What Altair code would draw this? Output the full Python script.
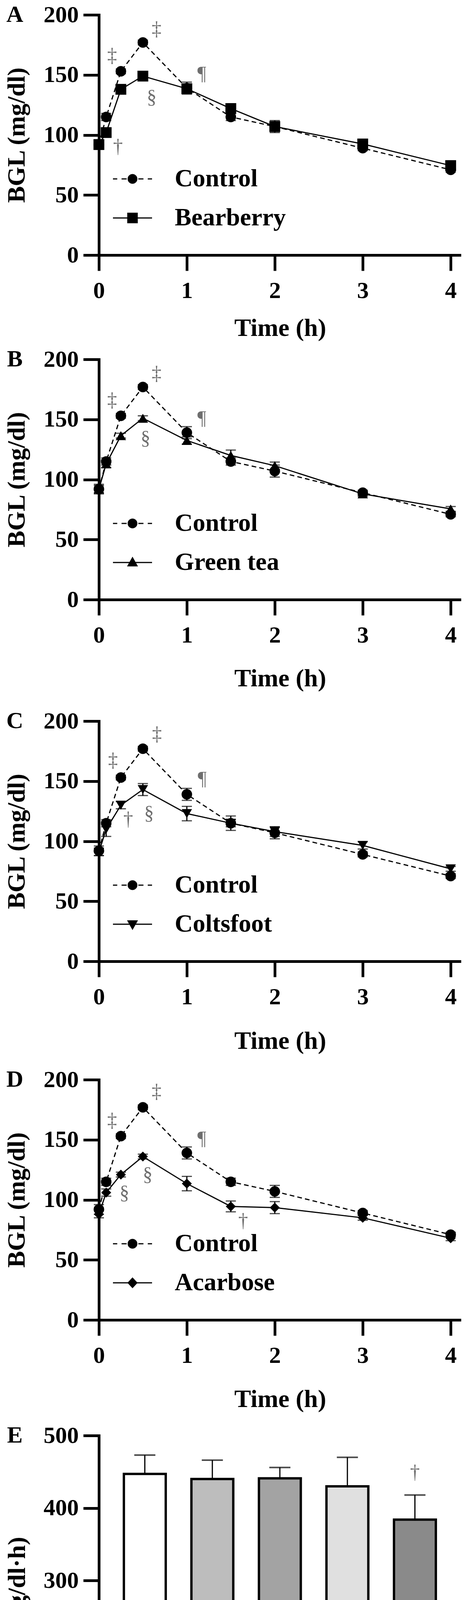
import altair as alt
import pandas as pd

FONT = "Liberation Serif"

# ---------------- data ----------------
TIME = [0, 0.083, 0.25, 0.5, 1, 1.5, 2, 3, 4]
CONTROL = [92, 115, 153, 177, 139, 115, 107, 89, 71]
CONTROL_SD = [4, 3, 2, 2, 5, 3, 5, 2, 2]
BEARBERRY = [92, 102, 138, 149, 138.5, 122, 107, 92.5, 74.5]
BEARBERRY_SD = [3, 3, 3, 3, 3, 4, 3, 3, 2]
GREEN_TEA = [92, 113, 136.5, 151, 132.5, 120, 111.5, 88, 75.5]
GREEN_TEA_SD = [3, 3, 2, 2, 3, 4.5, 3, 2, 2]
COLTSFOOT = [91, 110, 130, 143, 123, 115, 108, 96.5, 77]
COLTSFOOT_SD = [3, 6, 3, 5, 6, 6, 4, 3, 2]
ACARBOSE = [88, 106, 121, 136, 113.5, 94.5, 93.5, 85, 68]
ACARBOSE_SD = [3, 3, 2, 2, 6, 4.5, 5, 2, 2]

AUC_GROUPS = ["Control", "Bearberry", "Green tea", "Coltsfoot", "Acarbose"]
AUC_MEAN = [447, 440, 441, 430, 384]
AUC_SD = [26, 26, 15, 40, 34]
BAR_COLORS = ["#ffffff", "#bdbdbd", "#a3a3a3", "#e0e0e0", "#8a8a8a"]

# significance marks (time, BGL level, symbol)
ANNOT_A = [(0.15, 166, "‡"), (0.655, 188, "‡"), (1.17, 151, "¶"), (0.60, 131, "§"), (0.217, 90, "†")]
ANNOT_B = [(0.15, 166, "‡"), (0.655, 188, "‡"), (1.17, 151, "¶"), (0.53, 134, "§")]
ANNOT_C = [(0.16, 167, "‡"), (0.66, 189, "‡"), (1.175, 152, "¶"), (0.57, 123, "§"), (0.333, 118, "†")]
ANNOT_D = [(0.15, 166, "‡"), (0.655, 190, "‡"), (1.17, 151, "¶"), (0.29, 105.5, "§"),
           (0.554, 120.6, "§"), (1.64, 82.3, "†")]
ANNOT_E = [("Acarbose", 449, "†")]


# legend symbols: line segment (thin filled bars) + marker, unit box -1..1
def _bar(a, b, h=0.03):
    return f"M{a},{-h}L{b},{-h}L{b},{h}L{a},{h}Z"


P_CONTROL = (_bar(-1, -0.78) + _bar(-0.56, -0.3) + _bar(0.3, 0.56) + _bar(0.78, 1)
             + "M0.25,0A0.25,0.25,0,1,1,-0.25,0A0.25,0.25,0,1,1,0.25,0Z")
P_SQUARE = _bar(-1, 1) + "M-0.27,-0.27L0.27,-0.27L0.27,0.27L-0.27,0.27Z"
P_TRI_UP = _bar(-1, 1) + "M0,-0.3L0.28,0.2L-0.28,0.2Z"
P_TRI_DOWN = _bar(-1, 1) + "M0,0.3L-0.28,-0.2L0.28,-0.2Z"
P_DIAMOND = _bar(-1, 1) + "M0,-0.28L0.26,0L0,0.28L-0.26,0Z"

W, H = 927, 615
EW, EH = 926, 928


def spacers(left, top, bottom, h):
    d = pd.DataFrame({"s": [" "]})
    base = alt.Chart(d)
    l = base.mark_text(fontSize=1, align="right", baseline="middle").encode(
        x=alt.value(-left), y=alt.value(h / 2), text="s:N")
    t = base.mark_text(fontSize=1, align="left", baseline="bottom").encode(
        x=alt.value(0), y=alt.value(-top), text="s:N")
    b = base.mark_text(fontSize=1, align="left", baseline="top").encode(
        x=alt.value(0), y=alt.value(h + bottom), text="s:N")
    return [l, t, b]


def letter_layer(letter):
    return alt.Chart(pd.DataFrame({"s": [letter]})).mark_text(
        font=FONT, fontSize=60, fontWeight="bold", color="black",
        align="center", baseline="middle").encode(
        x=alt.value(-215), y=alt.value(0), text="s:N")


def line_panel(letter, name, mean, sd, marker, msize, lpath, annots,
               title_y, left, top, bottom):
    df = pd.DataFrame({
        "t": TIME + TIME,
        "v": CONTROL + mean,
        "sd": CONTROL_SD + sd,
        "group": ["Control"] * len(TIME) + [name] * len(TIME),
    })
    df["lo"] = df["v"] - df["sd"]
    df["hi"] = df["v"] + df["sd"]

    xs = alt.Scale(domain=[0, 4.12], nice=False, zero=False)
    ys = alt.Scale(domain=[0, 200], nice=False)
    xaxis = alt.Axis(values=[0, 1, 2, 3, 4], format="d", title="Time (h)",
                     labelPadding=22, titleY=title_y, titleBaseline="top")
    yaxis = alt.Axis(values=[0, 50, 100, 150, 200], title="BGL (mg/dl)",
                     labelPadding=12, titleX=-191, titleBaseline="alphabetic")

    def X(f):
        return alt.X(f, type="quantitative", scale=xs, axis=xaxis)

    def Y(f):
        return alt.Y(f, type="quantitative", scale=ys, axis=yaxis)

    base = alt.Chart(df)
    ctrl = base.transform_filter(alt.datum.group == "Control")
    trt = base.transform_filter(alt.datum.group == name)

    err = base.mark_rule(color="black", strokeWidth=3).encode(
        x=X("t"), y=Y("lo"), y2="hi:Q")
    cap_lo = base.mark_tick(color="black", orient="horizontal", size=26, thickness=3).encode(
        x=X("t"), y=Y("lo"))
    cap_hi = base.mark_tick(color="black", orient="horizontal", size=26, thickness=3).encode(
        x=X("t"), y=Y("hi"))
    ctrl_line = ctrl.mark_line(color="black", strokeWidth=3, strokeDash=[12, 8]).encode(
        x=X("t"), y=Y("v"))
    ctrl_pts = ctrl.mark_point(shape="circle", filled=True, color="black", opacity=1,
                               size=729).encode(x=X("t"), y=Y("v"))
    trt_line = trt.mark_line(color="black", strokeWidth=3).encode(x=X("t"), y=Y("v"))
    trt_pts = trt.mark_point(shape=marker, filled=True, color="black", opacity=1,
                             size=msize).encode(x=X("t"), y=Y("v"))
    leg = base.transform_filter("false").mark_point(
        filled=True, fill="black", opacity=1).encode(
        shape=alt.Shape("group:N",
                        scale=alt.Scale(domain=["Control", name], range=[P_CONTROL, lpath]),
                        legend=alt.Legend(
                            title=None, orient="none", legendX=35, legendY=369,
                            symbolSize=10000, labelFont=FONT, labelFontSize=64,
                            labelFontWeight="bold", labelColor="black", labelOffset=57,
                            labelLimit=900, rowPadding=17, padding=0,
                            symbolFillColor="black", symbolOpacity=1)))
    adf = pd.DataFrame(annots, columns=["t", "v", "s"])
    ann = alt.Chart(adf).mark_text(font=FONT, fontSize=50, color="#6e6e6e").encode(
        x=X("t"), y=Y("v"), text="s:N")

    layers = [err, cap_lo, cap_hi, ctrl_line, ctrl_pts, trt_line, trt_pts, leg, ann,
              letter_layer(letter)] + spacers(left, top, bottom, H)
    return alt.layer(*layers).properties(width=W, height=H)


pA = line_panel("A", "Bearberry", BEARBERRY, BEARBERRY_SD, "square", 767, P_SQUARE,
                ANNOT_A, 155, 245, 29, 225)
pB = line_panel("B", "Green tea", GREEN_TEA, GREEN_TEA_SD, "triangle-up", 700, P_TRI_UP,
                ANNOT_B, 170, 245, 40, 269)
pC = line_panel("C", "Coltsfoot", COLTSFOOT, COLTSFOOT_SD, "triangle-down", 700, P_TRI_DOWN,
                ANNOT_C, 172, 245, 40, 261)
pD = line_panel("D", "Acarbose", ACARBOSE, ACARBOSE_SD, "diamond", 650, P_DIAMOND,
                ANNOT_D, 171, 245, 40, 254)

# ---------------- panel E ----------------
edf = pd.DataFrame({"group": AUC_GROUPS, "auc": AUC_MEAN, "sd": AUC_SD})
edf["hi"] = edf["auc"] + edf["sd"]
exs = alt.Scale(domain=AUC_GROUPS, paddingInner=0.38, paddingOuter=0.37)
eys = alt.Scale(domain=[0, 500], nice=False)
exaxis = alt.Axis(title=None, labelAngle=-45, labelAlign="right", labelBaseline="top",
                  tickSize=30, labelPadding=10, labelFontSize=62)
eyaxis = alt.Axis(values=[0, 100, 200, 300, 400, 500], title="AUC (mg/dl·h)",
                  labelPadding=12, titleX=-190, titleBaseline="alphabetic")


def EX(f):
    return alt.X(f, type="nominal", scale=exs, axis=exaxis, sort=AUC_GROUPS)


def EY(f):
    return alt.Y(f, type="quantitative", scale=eys, axis=eyaxis)


ebase = alt.Chart(edf)
bars = ebase.mark_bar(stroke="black", strokeWidth=6).encode(
    x=EX("group"), y=EY("auc"),
    color=alt.Color("group:N", scale=alt.Scale(domain=AUC_GROUPS, range=BAR_COLORS), legend=None))
stems = ebase.mark_rule(color="black", strokeWidth=3).encode(x=EX("group"), y=EY("auc"), y2="hi:Q")
caps = ebase.mark_tick(color="black", orient="horizontal", size=54, thickness=4).encode(
    x=EX("group"), y=EY("hi"))
eann = alt.Chart(pd.DataFrame(ANNOT_E, columns=["group", "v", "s"])).mark_text(
    font=FONT, fontSize=50, color="#6e6e6e").encode(x=EX("group"), y=EY("v"), text="s:N")
sp = spacers(245, 40, 0, EH)
pE = alt.layer(bars, stems, caps, eann, letter_layer("E"), sp[0], sp[1]).properties(width=EW, height=EH)

chart = alt.vconcat(pA, pB, pC, pD, pE, spacing=0).resolve_scale(
    shape="independent", color="independent", x="independent", y="independent").resolve_legend(
    shape="independent", color="independent").properties(padding=0).configure_view(
    stroke=None).configure_axis(
    labelFont=FONT, labelFontSize=60, labelFontWeight="bold", labelColor="black",
    titleFont=FONT, titleFontSize=64, titleFontWeight="bold", titleColor="black",
    domainColor="black", domainWidth=7, domainCap="square",
    tickColor="black", tickWidth=7, tickSize=40, grid=False,
    labelFlush=False, labelOverlap=False)

chart.save("out.html", embed_options={"renderer": "svg", "actions": False})
